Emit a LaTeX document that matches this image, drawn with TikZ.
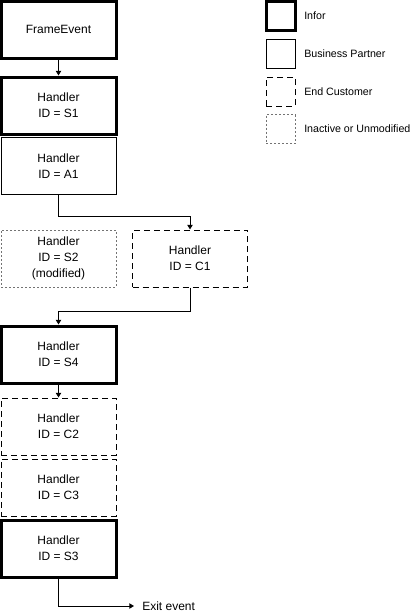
\documentclass[tikz,border=0pt]{standalone}
\usepackage{fontspec}
\setmainfont{Liberation Sans}
\usetikzlibrary{arrows.meta}
\begin{document}
\begin{tikzpicture}[x=0.75pt,y=-0.75pt,
  box/.style={draw=black,fill=white,minimum width=86.25pt,minimum height=42.75pt,inner sep=0pt,align=center,font=\fontsize{9}{12}\selectfont},
  infor/.style={box,line width=2.25pt},
  partner/.style={box,line width=0.75pt},
  customer/.style={box,line width=0.75pt,dash pattern=on 4.5pt off 3pt},
  inactive/.style={box,line width=0.75pt,draw=black!55,dash pattern=on 1.5pt off 1.5pt},
  lbox/.style={minimum width=21.75pt,minimum height=21.75pt,inner sep=0pt,font=\fontsize{8}{10}\selectfont},
  ltext/.style={anchor=west,inner sep=0pt,font=\fontsize{8}{10}\selectfont},
  arr/.style={draw=black,line width=0.75pt,-{Triangle[width=4pt,length=3.5pt]}}]
\useasboundingbox (0,0) rectangle (410,615);
% main chain
\node[infor] (fe) at (58.5,29.5) {FrameEvent};
\node[infor] (s1) at (58.5,105.5) {Handler\\ID = S1};
\node[partner] (a1) at (58.5,166) {Handler\\ID = A1};
\node[inactive] (s2) at (58.5,258.5) {Handler\\ID = S2\\(modified)};
\node[customer] (c1) at (190,258.5) {Handler\\ID = C1};
\node[infor] (s4) at (58.5,354.5) {Handler\\ID = S4};
\node[customer] (c2) at (58.5,426.5) {Handler\\ID = C2};
\node[customer] (c3) at (58.5,487.5) {Handler\\ID = C3};
\node[infor] (s3) at (58.5,548.5) {Handler\\ID = S3};
\coordinate (exit) at (134,606);
\node[anchor=west,inner sep=0pt,font=\fontsize{9}{12}\selectfont] (exittext) at (142,606) {Exit event};
% connectors
\draw[arr] (fe.south) -- (s1.north);
\draw[arr] (a1.south) |- (190,216) -- (c1.north);
\draw[arr] (c1.south) |- (58.5,311) -- (s4.north);
\draw[arr] (s4.south) -- (c2.north);
\draw[arr] (s3.south) |- (exit);
% legend
\node[lbox,draw,line width=2.25pt] (li) at (280.5,16) {};
\node[lbox,draw,line width=0.75pt] (lp) at (280.5,53.5) {};
\node[lbox,draw,line width=0.75pt,dash pattern=on 4.5pt off 3pt] (lc) at (280.5,91.5) {};
\node[lbox,draw=black!55,line width=0.75pt,dash pattern=on 1.5pt off 1.5pt] (ln) at (280.5,129) {};
\node[ltext] (lit) at (304,16) {Infor};
\node[ltext] (lpt) at (304,53.5) {Business Partner};
\node[ltext] (lct) at (304,91.5) {End Customer};
\node[ltext] (lnt) at (304,129) {Inactive or Unmodified};
\end{tikzpicture}
\end{document}
